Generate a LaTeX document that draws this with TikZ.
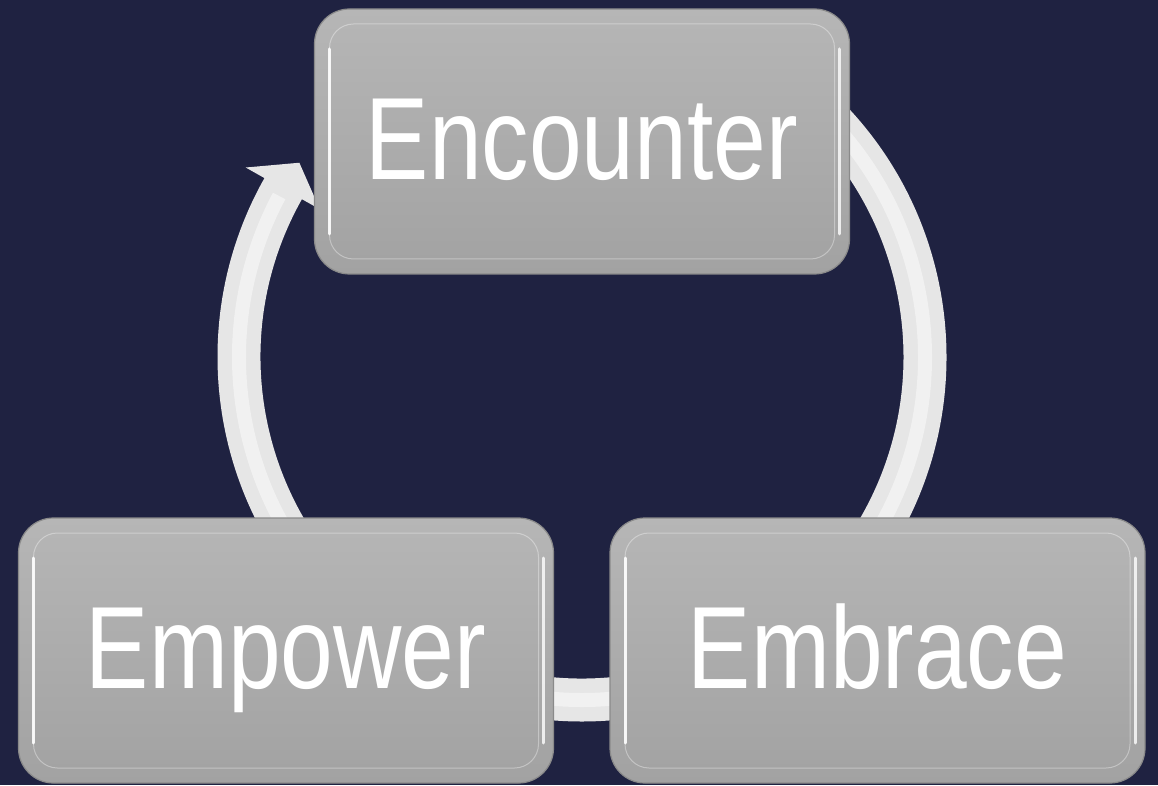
\documentclass[tikz,border=0pt]{standalone}
\usepackage{fontspec}
\newfontfamily\boxfont{Liberation Sans}[FakeStretch=0.81]
\definecolor{backdrop}{RGB}{31,34,65}
\definecolor{ringgray}{RGB}{230,230,230}
\definecolor{ringlight}{RGB}{241,241,241}
\definecolor{boxtop}{RGB}{182,182,182}
\definecolor{boxbottom}{RGB}{162,162,162}
\definecolor{boxedge}{RGB}{138,138,138}
\begin{document}
\begin{tikzpicture}[x=1pt,y=1pt,
  stage/.style={rounded corners=35pt, minimum width=535pt, minimum height=265pt, inner sep=0pt,
    top color=boxtop, bottom color=boxbottom, draw=boxedge, line width=1.2pt,
    text=white, font=\boxfont\fontsize{117pt}{117pt}\selectfont, text height=84pt, text depth=8pt,
    path picture={
      \draw[white, line width=1pt, opacity=.35, rounded corners=24pt]
        ([shift={(15pt,15pt)}]path picture bounding box.south west) rectangle
        ([shift={(-15pt,-15pt)}]path picture bounding box.north east);
      \draw[white, line width=3pt, opacity=.9, line cap=round]
        ([shift={(15pt,40pt)}]path picture bounding box.south west) --
        ([shift={(15pt,-40pt)}]path picture bounding box.north west);
      \draw[white, line width=3pt, opacity=.8, line cap=round]
        ([shift={(-10pt,40pt)}]path picture bounding box.south east) --
        ([shift={(-10pt,-40pt)}]path picture bounding box.north east);}}]
\fill[backdrop] (0,0) rectangle (1158,785);
\coordinate (hub) at (582,428);
\fill[ringgray] ([shift={(50:364.5)}]hub) arc[start angle=50, end angle=-209.4, radius=364.5]
  -- ([shift={(150.6:386)}]hub) -- ([shift={(145.5:343)}]hub) -- ([shift={(150.6:301)}]hub)
  -- ([shift={(150.6:321.5)}]hub) arc[start angle=-209.4, end angle=50, radius=321.5] -- cycle;
\draw[ringlight, line width=14pt] ([shift={(50:343)}]hub) arc[start angle=50, end angle=-208, radius=343];
\node[stage] (encounter) at (582,643.5) {Encounter};
\node[stage] (empower) at (286,134.5) {Empower};
\node[stage] (embrace) at (877.5,134.5) {Embrace};
\end{tikzpicture}
\end{document}
